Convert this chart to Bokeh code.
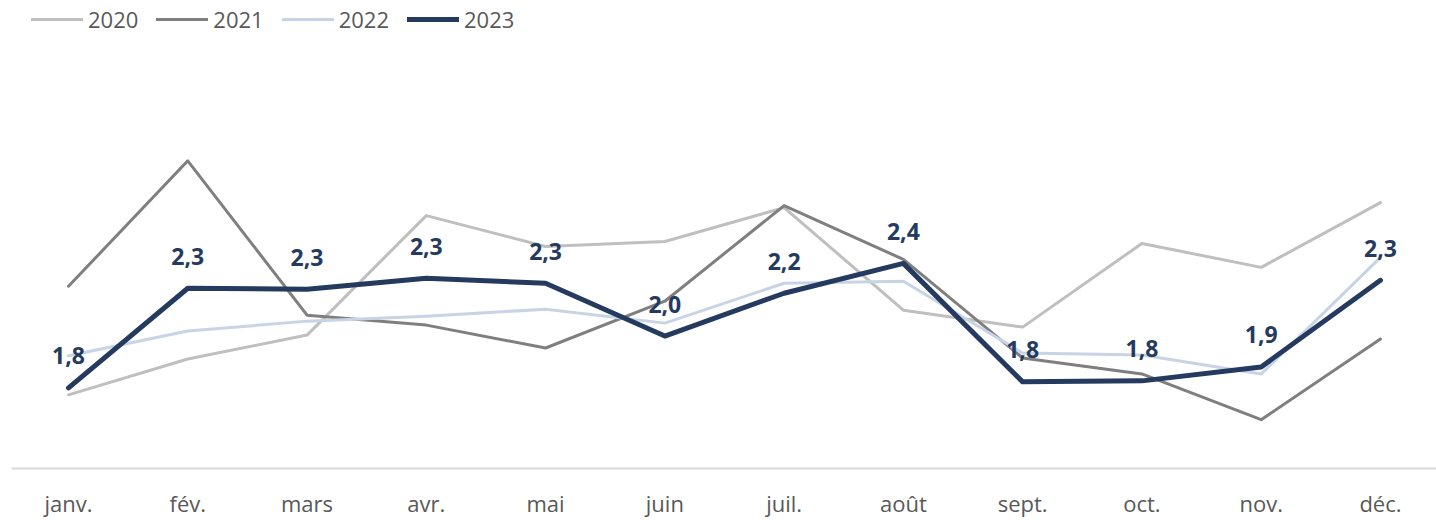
from bokeh.plotting import figure
from bokeh.models import Range1d, FixedTicker, Legend, LegendItem, ColumnDataSource
from bokeh.core.properties import value
from bokeh.embed import file_html
from bokeh.resources import INLINE

months = ["janv.", "fév.", "mars", "avr.", "mai", "juin", "juil.", "août", "sept.", "oct.", "nov.", "déc."]
series_names = ["2020", "2021", "2022", "2023"]
v2020 = [1.73, 1.91, 2.03, 2.63, 2.475, 2.50, 2.67, 2.155, 2.07, 2.49, 2.37, 2.695]
v2021 = [2.275, 2.905, 2.13, 2.08, 1.965, 2.20, 2.68, 2.41, 1.915, 1.835, 1.605, 2.01]
v2022 = [1.926, 2.05, 2.10, 2.125, 2.16, 2.09, 2.29, 2.30, 1.94, 1.93, 1.835, 2.42]
v2023 = [1.765, 2.265, 2.26, 2.315, 2.29, 2.025, 2.24, 2.39, 1.795, 1.80, 1.87, 2.305]

colors = ["#bfbfbf", "#7f7f7f", "#c7d4e6", "#243a5e"]
widths = [3, 3, 3, 5]
FONT = "Open Sans"

xs = list(range(len(months)))

p = figure(width=1436, height=520, output_backend="svg", toolbar_location=None,
           x_range=Range1d(-0.478, 11.47), y_range=Range1d(1.36, 3.71),
           min_border_left=11, min_border_right=0, min_border_top=0, min_border_bottom=50)
p.outline_line_color = None
p.xgrid.visible = False
p.ygrid.visible = False
p.yaxis.visible = False
p.background_fill_color = "white"
p.border_fill_color = "white"

ax = p.xaxis[0]
ax.ticker = FixedTicker(ticks=xs)
ax.major_label_overrides = {i: m for i, m in enumerate(months)}
ax.major_tick_line_color = None
ax.minor_tick_line_color = None
ax.axis_line_color = "#d9d9d9"
ax.axis_line_width = 2
ax.major_label_text_font = FONT
ax.major_label_text_font_size = "22px"
ax.major_label_text_color = "#595959"
ax.major_label_standoff = 13

items = []
for name, vals, c, w in zip(series_names, [v2020, v2021, v2022, v2023], colors, widths):
    r = p.line(xs, vals, line_color=c, line_width=w, line_join="round", line_cap="round")
    items.append(LegendItem(label=name, renderers=[r]))

labels = [f"{v:.1f}".replace(".", ",") for v in v2023]
src = ColumnDataSource(dict(x=xs, y=v2023, t=labels))
p.text(x="x", y="y", text="t", source=src, text_align="center", text_baseline="middle",
       y_offset=-32, text_font=value(FONT), text_font_style="bold", text_font_size="23px",
       text_color="#243a5e")

legend = Legend(items=items, orientation="horizontal", location=(20, 434),
                padding=0, margin=0, spacing=18, glyph_width=52, glyph_height=28,
                label_height=28, label_standoff=5, border_line_color=None,
                background_fill_alpha=0, label_text_font=FONT,
                label_text_font_size="22px", label_text_color="#595959")
p.add_layout(legend)

open("out.html", "w").write(file_html(p, INLINE))
